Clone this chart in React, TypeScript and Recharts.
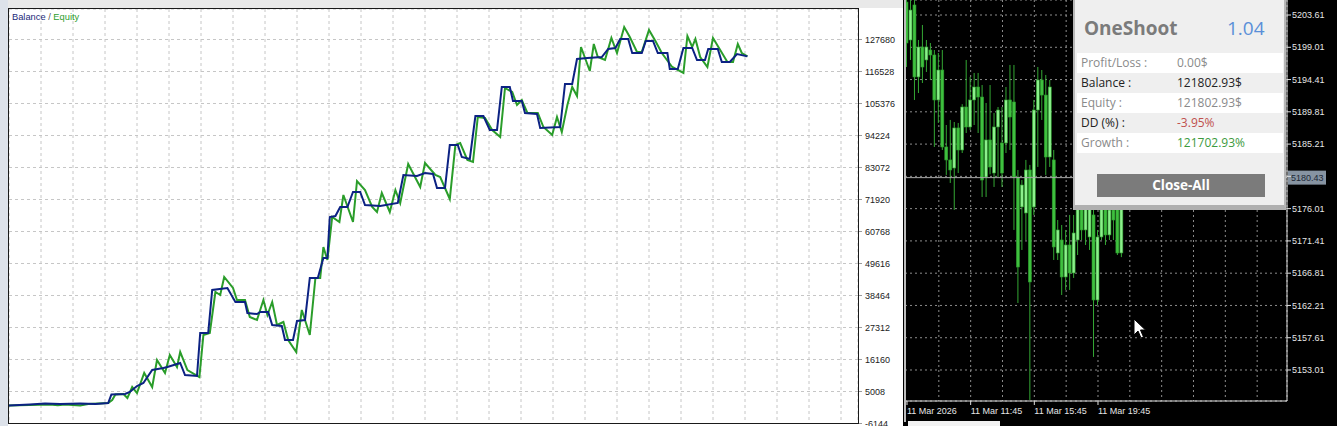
import React from "react";
import {
  LineChart,
  Line,
  XAxis,
  YAxis,
  CartesianGrid,
  ComposedChart,
  Bar,
  ReferenceLine,
} from "recharts";

// ---------- Balance / Equity (tester graph) ----------
const balanceTrade = [
  0, 2.6, 4.5, 6.4, 8.9, 10.8, 12.4, 12.8, 14.5, 15.1, 16, 16.8, 17.9, 19.3, 19.8, 21.4, 22, 23.5, 23.9, 24.9,
  25.4, 27.3, 28.3, 29.5, 29.8, 31, 31.4, 32.4, 32.9, 34.1, 34.5, 35.5, 36, 37, 37.6, 38.6, 39.3, 39.8, 40.1, 40.8,
  41.4, 42.3, 43, 43.9, 44.5, 46.4, 48.6, 49.3, 51, 52, 53, 53.5, 54.5, 55.1, 56.1, 56.6, 57.6, 58.3, 59.3, 60.1,
  61, 61.6, 62.6, 63, 64.1, 64.5, 66, 66.4, 68.9, 69.5, 70.4, 71, 72.3, 74.1, 74.9, 75.8, 76.4, 77.4, 77.9, 79.1,
  79.6, 80.5, 81.1, 82.3, 82.6, 83.6, 84.3, 85.4, 86, 87, 87.4, 88.6, 89.1, 90.1, 91, 92.3,
];
const balanceValue = [
  100, 480, 830, 650, 830, 650, 1000, 3960, 4140, 4834, 6925, 7970, 12501, 13198, 13546, 14940, 10758, 10410, 25395, 25395,
  40381, 41078, 36199, 36199, 32365, 32017, 32714, 32714, 28183, 27835, 22956, 22956, 29577, 29926, 44563, 44563, 51533, 51533, 65821, 66169,
  69306, 69306, 74534, 74534, 70003, 69655, 70700, 80458, 80110, 81155, 80807, 75928, 75928, 90913, 90913, 86731, 86034, 101020, 101020, 96141,
  96141, 111126, 111126, 106247, 106247, 102065, 101717, 96838, 97186, 112172, 112172, 120884, 121233, 121581, 124369, 124718, 127854, 127854, 122975, 122975,
  127157, 127157, 122975, 122975, 117399, 117399, 124718, 124718, 120536, 120536, 124369, 124369, 119839, 119839, 122627, 121803,
];
const equityTrade = [
  0, 5.1, 6.1, 7, 8.9, 9.9, 12.4, 12.9, 13.3, 14.3, 14.8, 15.4, 16, 16.9, 17.9, 18.5, 19.5, 20.1, 21, 21.4,
  22.3, 23.8, 24.3, 25.1, 25.8, 26.4, 26.9, 28, 28.5, 29.5, 30.1, 31, 31.8, 32.3, 32.9, 33.5, 34.3, 34.9, 35.9, 36.6,
  37.6, 38.3, 38.9, 39.3, 39.8, 40.4, 41.3, 41.8, 43, 43.5, 44.5, 45.4, 46, 46.6, 47.6, 48.3, 48.9, 49.9, 51.4, 52,
  53.3, 53.9, 55.1, 55.8, 56.4, 57.3, 58, 58.6, 59.5, 60.4, 61.4, 62, 62.9, 63.5, 64.1, 64.8, 66.1, 66.8, 67.9, 68.5,
  69.1, 69.8, 70.4, 71, 71.5, 72.6, 73.1, 73.6, 74.5, 75.3, 76, 76.9, 77.6, 78.5, 79.1, 80, 80.8, 81.6, 82.9, 84.3,
  84.8, 85.4, 85.8, 86.4, 87.3, 88, 88.9, 89.8, 90.5, 91.1, 91.6, 92.3,
];
const equityValue = [
  100, 480, 250, 480, 150, 650, 1000, 2046, 3963, 4140, 2743, 6576, 4485, 11455, 6576, 15986, 11455, 17728, 13546, 18774,
  12501, 10061, 24698, 25395, 39684, 38638, 44911, 41078, 36896, 36896, 30971, 29926, 36896, 31668, 36199, 28183, 29229, 22956, 18774, 33411,
  24698, 44563, 44563, 55366, 50836, 65821, 64079, 73488, 64079, 78367, 75231, 69306, 67564, 74185, 67564, 75231, 70700, 84292, 76276, 84640,
  80458, 79761, 72094, 90913, 91610, 85686, 84989, 100671, 100323, 96141, 93701, 110778, 109384, 104853, 106596, 102065, 102065, 97186, 94398, 100671,
  95444, 104853, 111126, 107990, 125066, 116702, 126112, 121581, 120536, 128203, 122975, 132036, 128551, 123324, 123324, 130991, 127157, 122975, 118096, 116005,
  128900, 125066, 127854, 121581, 118096, 128203, 124021, 119839, 119839, 126112, 122975, 121803,
];
const equityTicks = [-6144, 5008, 16160, 27312, 38464, 49616, 60768, 71920, 83072, 94224, 105376, 116528, 127680];
const tradeGridTicks = [4, 8, 12, 16, 20, 24, 28, 32, 36, 40, 44, 48, 52, 56, 60, 64, 68, 72, 76, 80, 84, 88, 92, 96, 100, 104];

// ---------- Price chart (M15 candles) ----------
const candleOpen = [
  5205.46, 5200.05, 5205.04, 5194.78, 5199.05, 5197.2, 5198.62, 5197.91, 5191.5, 5195.77,
  5184.8, 5182.95, 5181.8, 5187.51, 5184.37, 5190.5, 5187.65, 5191.5, 5193.35, 5191.92,
  5180.52, 5185.8, 5181.09, 5187.65, 5185.37, 5185.37, 5191.5, 5191.21, 5180.52, 5176.25,
  5175.39, 5181.52, 5176.25, 5190.07, 5194.35, 5192.2, 5183.37, 5182.95, 5169.69, 5171.54,
  5166.27, 5170.83, 5166.84, 5171.54, 5177.24, 5172.97, 5171.97, 5175.11, 5162.99, 5171.97,
  5176.53, 5172.26, 5175.82, 5176.53, 5169.69, 5177.24,
];
const candleHigh = [
  5207.2, 5205.9, 5206.2, 5200.05, 5202.19, 5200.05, 5199.62, 5198.62, 5198.2, 5198.62,
  5187.93, 5188.65, 5188.36, 5188.22, 5190.9, 5197.2, 5194.78, 5195.35, 5195.35, 5193.63,
  5191.07, 5193.63, 5189.64, 5190.5, 5190.5, 5193.35, 5196.49, 5196.49, 5181.52, 5180.09,
  5182.95, 5182.24, 5191.5, 5196.2, 5195.77, 5195.06, 5194.35, 5184.37, 5174.39, 5173.68,
  5172.97, 5175.11, 5175.11, 5179.38, 5180.09, 5178.67, 5178.67, 5176.53, 5172.97, 5177.96,
  5177.96, 5177.96, 5178.67, 5177.96, 5178.67, 5180.81,
];
const candleLow = [
  5196.2, 5197.2, 5191.5, 5192.49, 5193.92, 5195.49, 5194.35, 5184.8, 5188.22, 5184.37,
  5180.81, 5179.67, 5175.82, 5181.09, 5183.94, 5186.79, 5187.2, 5187.93, 5186.79, 5177.67,
  5177.67, 5180.9, 5179.1, 5180.52, 5179.1, 5183.94, 5184.37, 5172.97, 5162.56, 5170.12,
  5171.54, 5148.74, 5175.11, 5181.95, 5188.65, 5180.81, 5181.95, 5168.69, 5168.69, 5163.7,
  5164.42, 5164.42, 5166.13, 5169.4, 5171.54, 5170.83, 5170.12, 5154.87, 5162.28, 5171.54,
  5170.83, 5171.54, 5171.54, 5169.4, 5169.1, 5175.82,
];
const candleClose = [
  5199.62, 5204.32, 5194.78, 5199.05, 5196.2, 5199.05, 5197.91, 5191.5, 5195.77, 5184.8,
  5182.95, 5181.52, 5187.51, 5184.37, 5190.5, 5187.65, 5191.5, 5193.35, 5191.92, 5180.09,
  5185.8, 5181.95, 5187.65, 5190.07, 5181.09, 5191.5, 5189.07, 5180.52, 5167.69, 5179.38,
  5181.52, 5165.56, 5190.07, 5194.35, 5192.2, 5183.37, 5193.35, 5170.55, 5172.97, 5166.27,
  5170.83, 5166.84, 5172.54, 5177.24, 5172.97, 5176.53, 5177.24, 5162.99, 5171.97, 5176.53,
  5172.26, 5175.82, 5174.39, 5169.69, 5177.24, 5180.43,
];
const priceTicks = [5153.01, 5157.61, 5162.21, 5166.81, 5171.41, 5176.01, 5180.61, 5185.21, 5189.81, 5194.41, 5199.01, 5203.61];
const currentPrice = 5180.43;
const candleGridTicks = [8, 16, 24, 32, 40, 48, 56, 64, 72, 80, 88];
const timeTickIndex = [0, 16, 32, 48];
const timeTickLabels = ["11 Mar 2026", "11 Mar 11:45", "11 Mar 15:45", "11 Mar 19:45"];

// ---------- Panel ----------
const panelTitle = "OneShoot";
const panelVersion = "1.04";
const panelLabels = ["Profit/Loss :", "Balance :", "Equity :", "DD (%) :", "Growth :"];
const panelValues = ["0.00$", "121802.93$", "121802.93$", "-3.95%", "121702.93%"];
const panelButton = "Close-All";

const LABEL_FONT = '"Liberation Sans", Arial, sans-serif';
const PANEL_FONT = '"Open Sans", "Noto Sans", sans-serif';

const balanceData = balanceTrade.map((t, i) => ({ t, v: balanceValue[i] }));
const equityData = equityTrade.map((t, i) => ({ t, v: equityValue[i] }));
const candleData = candleOpen.map((o, i) => ({
  i,
  o,
  h: candleHigh[i],
  l: candleLow[i],
  c: candleClose[i],
  range: [candleLow[i], candleHigh[i]],
}));

const Candle = (props: any) => {
  const { x, y, width, height, payload } = props;
  if (!payload || x == null || y == null) return null;
  const top = Math.min(y, y + height);
  const span = Math.abs(height);
  const { o, h, l, c } = payload;
  const k = span / (h - l || 1);
  const bTop = top + (h - Math.max(o, c)) * k;
  const bH = Math.max(1, Math.abs(o - c) * k);
  const cx = x + width / 2;
  const bull = c >= o;
  return (
    <g>
      <line x1={cx} x2={cx} y1={top} y2={top + span} stroke="#34a834" strokeWidth={1} />
      <rect
        x={x}
        y={bTop}
        width={width}
        height={bH}
        fill={bull ? "#8cf08c" : "#3fc03f"}
        stroke="#2c9a2c"
        strokeWidth={0.6}
      />
    </g>
  );
};

const PriceAxisTick = (props: any) => {
  const { x, y, payload } = props;
  if (Math.abs(payload.value - 5180.61) < 0.001) return null;
  return (
    <text x={x} y={y} dy="0.355em" fill="#e6e6e6" fontSize={9} fontFamily={LABEL_FONT} textAnchor="start">
      {Number(payload.value).toFixed(2)}
    </text>
  );
};

const timeLabel = (v: number) => {
  const idx = timeTickIndex.indexOf(v);
  return idx < 0 ? "" : timeTickLabels[idx];
};

const PriceTag = (props: any) => {
  const vb = props.viewBox || {};
  const x0 = (vb.x ?? 0) + (vb.width ?? 0) + 1;
  const y0 = vb.y ?? 0;
  return (
    <g>
      <rect x={x0} y={y0 - 7} width={38} height={14} fill="#8794a2" />
      <text x={x0 + 3} y={y0} dy="0.355em" fill="#1d2836" fontSize={9} fontFamily={LABEL_FONT}>
        {currentPrice.toFixed(2)}
      </text>
    </g>
  );
};

export default function App() {
  return (
    <div
      style={{
        position: "fixed",
        left: 0,
        top: 0,
        width: 1337,
        height: 426,
        overflow: "hidden",
        background: "#ffffff",
      }}
    >
      {/* window frame strips */}
      <div style={{ position: "absolute", left: 0, top: 0, width: 905, height: 8, background: "#e9e9e9" }} />
      <div style={{ position: "absolute", left: 0, top: 0, width: 8, height: 426, background: "#dde2ea" }} />

      {/* Balance / Equity chart */}
      <div style={{ position: "absolute", left: 0, top: 0 }}>
        <LineChart width={905} height={426} margin={{ top: 9, right: 0, bottom: 2.5, left: 9 }}>
          <CartesianGrid stroke="#c6c6c6" strokeDasharray="3 3" />
          <XAxis
            type="number"
            dataKey="t"
            domain={[0, 106.125]}
            ticks={tradeGridTicks}
            hide
            height={0}
            allowDataOverflow
          />
          <YAxis
            orientation="right"
            type="number"
            domain={[-6144, 138309]}
            ticks={equityTicks}
            allowDataOverflow
            width={47}
            axisLine={false}
            tickLine={{ stroke: "#9a9a9a" }}
            tickSize={4}
            tickMargin={3}
            tick={{ fill: "#222", fontSize: 9, fontFamily: LABEL_FONT, textAnchor: "start" }}
            interval={0}
          />
          <Line
            data={equityData}
            dataKey="v"
            type="linear"
            stroke="#2a9d2a"
            strokeWidth={2}
            dot={false}
            isAnimationActive={false}
          />
          <Line
            data={balanceData}
            dataKey="v"
            type="linear"
            stroke="#0c2283"
            strokeWidth={2}
            dot={false}
            isAnimationActive={false}
          />
        </LineChart>
      </div>
      <div
        style={{
          position: "absolute",
          left: 8,
          top: 8,
          width: 851,
          height: 416,
          border: "1px solid #1a1a1a",
          boxSizing: "border-box",
          pointerEvents: "none",
        }}
      />
      <div
        style={{
          position: "absolute",
          left: 12,
          top: 11,
          fontFamily: LABEL_FONT,
          fontSize: 9.3,
          lineHeight: "12px",
          whiteSpace: "nowrap",
        }}
      >
        <span style={{ color: "#1b2a7a" }}>Balance</span>
        <span style={{ color: "#555" }}> / </span>
        <span style={{ color: "#2e9e2e" }}>Equity</span>
      </div>

      {/* Price chart */}
      <div style={{ position: "absolute", left: 903, top: 0, width: 434, height: 426, background: "#000" }}>
        <ComposedChart width={434} height={426} data={candleData} margin={{ top: 0, right: 0, bottom: 0, left: 2 }}>
          <CartesianGrid stroke="#8c8c8c" strokeDasharray="2 3" xAxisId="grid" yAxisId="p" />
          <XAxis
            xAxisId="time"
            type="number"
            dataKey="i"
            domain={[-0.5, 95.5]}
            ticks={timeTickIndex}
            interval={0}
            height={25}
            allowDataOverflow
            axisLine={{ stroke: "#e0e0e0" }}
            tickLine={{ stroke: "#e0e0e0" }}
            tickSize={4}
            tickMargin={3}
            tickFormatter={timeLabel}
            tick={{ fill: "#e6e6e6", fontSize: 9, fontFamily: LABEL_FONT, textAnchor: "start" }}
          />
          <XAxis
            xAxisId="grid"
            type="number"
            dataKey="i"
            domain={[-0.5, 95.5]}
            ticks={candleGridTicks}
            hide
            height={0}
            allowDataOverflow
          />
          <YAxis
            yAxisId="p"
            orientation="right"
            type="number"
            domain={[5148.59, 5205.75]}
            ticks={priceTicks}
            interval={0}
            allowDataOverflow
            width={50}
            axisLine={{ stroke: "#e0e0e0" }}
            tickLine={{ stroke: "#e0e0e0" }}
            tickSize={4}
            tickMargin={1}
            tick={<PriceAxisTick />}
          />
          <ReferenceLine xAxisId="time" yAxisId="p" y={currentPrice} stroke="#a8a8a8" strokeWidth={1} label={<PriceTag />} />
          <Bar
            xAxisId="time"
            yAxisId="p"
            dataKey="range"
            barSize={3}
            shape={<Candle />}
            isAnimationActive={false}
          />
        </ComposedChart>
      </div>
      <div style={{ position: "absolute", left: 904, top: 0, width: 2, height: 422, background: "#bdbdbd" }} />
      <div style={{ position: "absolute", left: 908, top: 421, width: 92, height: 6, background: "#f2f2f2" }} />

      {/* Mouse cursor */}
      <svg style={{ position: "absolute", left: 1133, top: 318 }} width={14} height={22}>
        <path d="M1 1 L1 17 L5 13 L8 20 L10.5 19 L7.5 12 L12.5 12 Z" fill="#ffffff" stroke="#000" strokeWidth={1} />
      </svg>

      {/* OneShoot panel */}
      <div
        style={{
          position: "absolute",
          left: 1073,
          top: 0,
          width: 213,
          height: 210,
          background: "#efefef",
          borderLeft: "2px solid #b8b8b8",
          borderRight: "2px solid #b8b8b8",
          borderBottom: "5px solid #b0b0b0",
          boxSizing: "border-box",
          fontFamily: PANEL_FONT,
        }}
      >
        <div
          style={{
            position: "absolute",
            left: 9,
            top: 19,
            fontSize: 19,
            lineHeight: "19px",
            fontWeight: 700,
            color: "#7b7b7b",
            whiteSpace: "nowrap",
          }}
        >
          {panelTitle}
        </div>
        <div
          style={{
            position: "absolute",
            left: 152,
            top: 19,
            fontSize: 19,
            lineHeight: "19px",
            color: "#5a8fd8",
            whiteSpace: "nowrap",
          }}
        >
          {panelVersion}
        </div>
        {panelLabels.map((lab, i) => {
          const strong = i === 1 || i === 3;
          const labelColor = strong ? "#222" : "#8a8a8a";
          const valueColor = i === 3 ? "#c0504d" : i === 4 ? "#3d9a3d" : strong ? "#222" : "#8a8a8a";
          return (
            <div
              key={lab}
              style={{
                position: "absolute",
                left: 2,
                top: 53 + i * 20,
                width: 206,
                height: 20,
                background: i % 2 === 0 ? "#ffffff" : "transparent",
                fontSize: 12,
                lineHeight: "20px",
                whiteSpace: "nowrap",
              }}
            >
              <span style={{ position: "absolute", left: 4, color: labelColor }}>{lab}</span>
              <span style={{ position: "absolute", left: 100, color: valueColor }}>{panelValues[i]}</span>
            </div>
          );
        })}
        <div
          style={{
            position: "absolute",
            left: 22,
            top: 174,
            width: 168,
            height: 23,
            background: "#7b7b7b",
            color: "#ffffff",
            fontWeight: 700,
            fontSize: 13.5,
            lineHeight: "23px",
            textAlign: "center",
          }}
        >
          {panelButton}
        </div>
      </div>
    </div>
  );
}
